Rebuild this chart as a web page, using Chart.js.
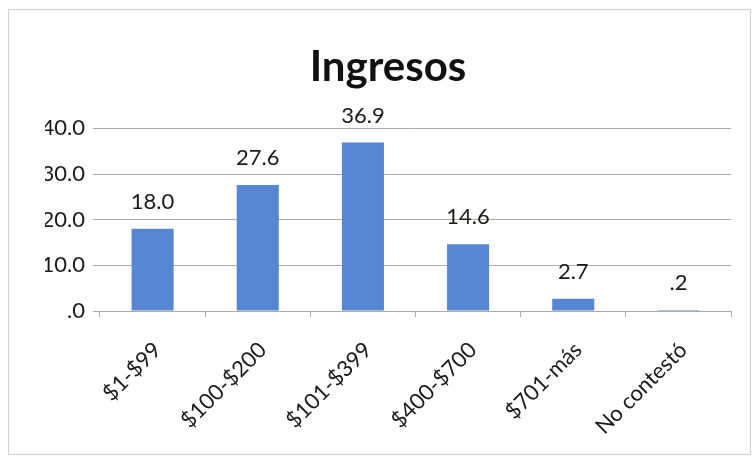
<!DOCTYPE html>
<html>
<head>
<meta charset="utf-8">
<script src="https://cdn.jsdelivr.net/npm/chart.js@4/dist/chart.umd.min.js"></script>
<style>
html,body{margin:0;padding:0;background:#fff;}
#wrap{position:relative;width:756px;height:459px;}
#frame{position:absolute;left:8px;top:9px;width:741px;height:444px;border:1px solid #cfcfcf;pointer-events:none;}
</style>
</head>
<body>
<div id="wrap">
<canvas id="c" width="756" height="459"></canvas>
<div id="frame"></div>
</div>
<script>
const categories = ['$1-$99', '$100-$200', '$101-$399', '$400-$700', '$701-más', 'No contestó'];
const values = [18.0, 27.6, 36.9, 14.6, 2.7, 0.2];
const yTicks = [0, 10, 20, 30, 40];
const titleText = 'Ingresos';

function fmt(v){
  const s = Number(v).toFixed(1);
  return s.startsWith('0.') ? s.slice(1) : s;
}

const FONT = 'Lato, "Open Sans", sans-serif';

const labelPlugin = {
  id: 'valueLabels',
  afterDatasetsDraw(chart){
    const ctx = chart.ctx;
    const meta = chart.getDatasetMeta(0);
    ctx.save();
    ctx.font = '22px ' + FONT;
    ctx.fillStyle = '#1a1a1a';
    ctx.textAlign = 'center';
    ctx.textBaseline = 'middle';
    meta.data.forEach((bar, i) => {
      ctx.fillText(fmt(values[i]), bar.x, bar.y - 27);
    });
    ctx.restore();
  }
};

new Chart(document.getElementById('c'), {
  type: 'bar',
  data: {
    labels: categories,
    datasets: [{
      data: values,
      backgroundColor: '#5886d2',
      barPercentage: 0.4,
      categoryPercentage: 1.0
    }]
  },
  options: {
    responsive: false,
    animation: false,
    layout: { padding: { left: 45, right: 25, top: 0, bottom: 0 } },
    plugins: {
      legend: { display: false },
      tooltip: { enabled: false },
      title: {
        display: true,
        text: titleText,
        color: '#111',
        font: { family: FONT, size: 42, weight: 'bold', lineHeight: 1.2 },
        padding: { top: 42, bottom: 36 }
      }
    },
    scales: {
      x: {
        offset: true,
        grid: { offset: true, drawOnChartArea: false, drawTicks: true, tickLength: 6, color: '#b0aaa5' },
        border: { display: true, color: '#b0aaa5' },
        ticks: {
          minRotation: 45, maxRotation: 45,
          color: '#1a1a1a',
          font: { family: FONT, size: 22 },
          padding: 20,
          labelOffset: 5
        },
        afterFit(scale){ scale.height = 148; }
      },
      y: {
        min: 0, max: 40,
        afterBuildTicks(scale){ scale.ticks = yTicks.map(v => ({ value: v })); },
        grid: { color: '#b0aaa5', drawTicks: true, tickLength: 7 },
        border: { display: false },
        ticks: {
          color: '#1a1a1a',
          font: { family: FONT, size: 22 },
          padding: 8,
          callback: (v) => fmt(v)
        },
        afterFit(scale){ scale.width = 55; }
      }
    }
  },
  plugins: [labelPlugin]
});
</script>
</body>
</html>
